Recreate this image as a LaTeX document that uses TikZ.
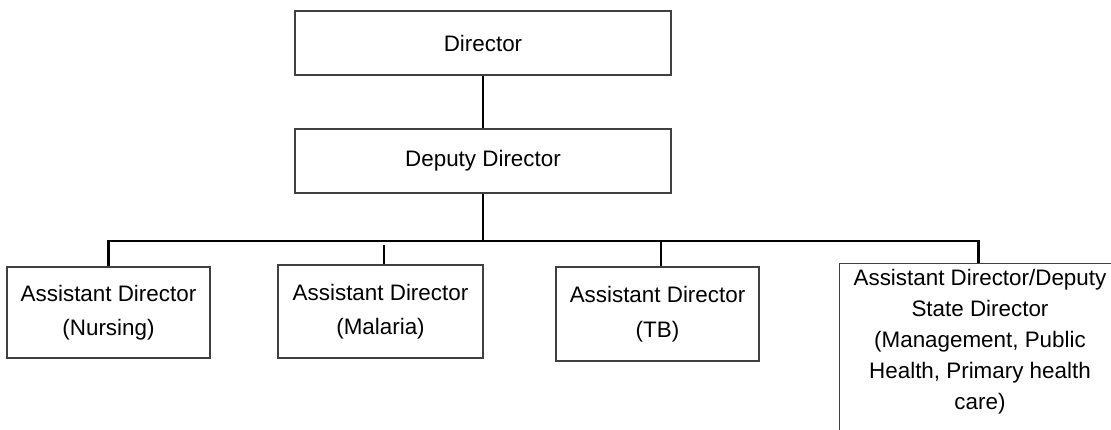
\documentclass[tikz,border=0pt]{standalone}
\usepackage{fontspec}
\setmainfont{Liberation Sans}
\begin{document}
\begin{tikzpicture}[x=1pt,y=-1pt,
  frame/.style={draw=black!75, line width=1.3pt, rectangle, inner sep=0pt},
  box/.style={frame, align=center, font=\fontsize{22.4}{34.5}\selectfont},
  tightlines/.style={align=center, inner sep=0pt, font=\fontsize{22.4}{31}\selectfont},
  link/.style={draw=black, line width=2.6pt}]
\useasboundingbox[fill=white] (0,0) rectangle (1111,429);

% upper management
\node[box, minimum width=376, minimum height=64] (dir) at (483,43) {Director};
\node[box, minimum width=376, minimum height=64] (dep) at (483,161) {Deputy Director};

% assistant directors
\node[box, minimum width=203, minimum height=91] (nur) at (108.5,312.5)
  {Assistant Director\\(Nursing)};
\node[box, minimum width=205, minimum height=93] (mal) at (380.5,311.5)
  {Assistant Director\\(Malaria)};
\node[box, minimum width=203, minimum height=94] (tb) at (657.5,314)
  {Assistant Director\\(TB)};
\node[frame, anchor=north west, minimum width=282, minimum height=200] (adm) at (839,263) {};
\node[tightlines] (admtext) at (980,342)
  {Assistant Director/Deputy\\State Director\\(Management, Public\\Health, Primary health\\care)};

% reporting lines
\coordinate (bus) at (483,241);
\draw[link] (dir.south) -- (dep.north);
\draw[link] (dep.south) -- (bus);
\draw[link] (nur.north) |- (bus) -| ([xshift=-2]adm.north);
\draw[link] ([xshift=3.5]mal.north) -- ([xshift=3.5,yshift=-4]mal.north |- bus);
\draw[link] ([xshift=3.5]tb.north) -- ([xshift=3.5]tb.north |- bus);
\end{tikzpicture}
\end{document}
